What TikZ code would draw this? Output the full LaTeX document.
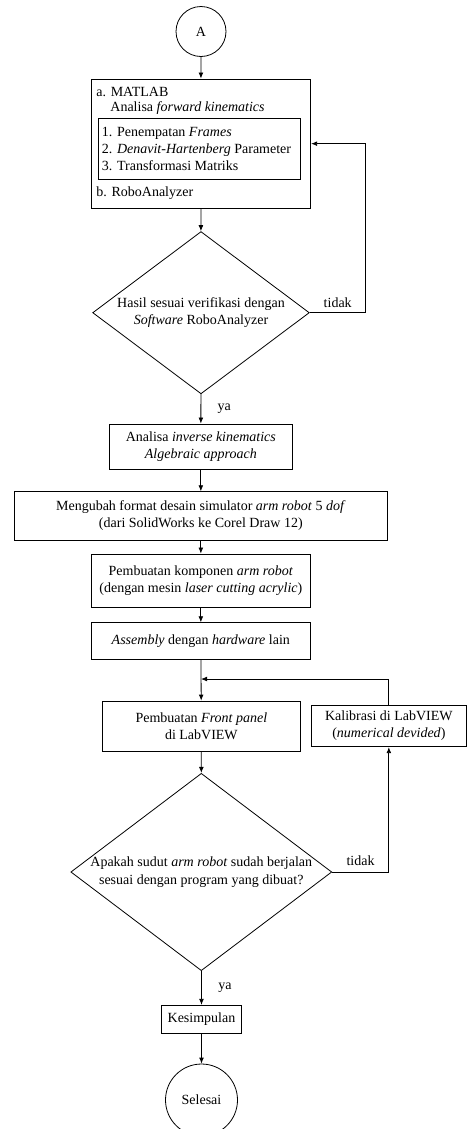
\documentclass[tikz,border=0pt]{standalone}
\usepackage{fontspec}
\setmainfont{Liberation Serif}
\usetikzlibrary{shapes.geometric,arrows.meta}
\begin{document}
\begin{tikzpicture}[x=0.75pt, y=-0.75pt, line width=0.6pt,
  font=\fontsize{10.5}{13}\selectfont,
  kotak/.style={draw, rectangle, align=center, inner sep=0pt},
  terminal/.style={draw, circle, inner sep=0pt},
  keputusan/.style={draw, diamond, inner sep=0pt},
  teks/.style={anchor=west, align=left, inner sep=0pt},
  panah/.style={-{Latex[length=4.5pt,width=3.6pt]}}]
  \useasboundingbox (0,0) rectangle (467,1129);
  % awal, lalu blok MATLAB dengan kotak langkah di dalamnya
  \node[terminal, minimum size=37.5pt] (mulai) at (201,31.5) {A};
  \node[kotak, minimum width=164.8pt, minimum height=97pt] (matlab) at (200.85,143.65) {};
  \node[teks] (matlaba) at (96,91.7) {a. MATLAB};
  \node[teks] (analisa) at (110,108.3) {Analisa \textit{forward kinematics}};
  \node[kotak, minimum width=151.5pt, minimum height=45.75pt] (langkah) at (199.7,148.5) {};
  \node[teks, font=\fontsize{10.5}{12.75}\selectfont] (daftar) at (101.5,148.5)
    {1. Penempatan \textit{Frames}\\ 2. \textit{Denavit-Hartenberg} Parameter\\ 3. Transformasi Matriks};
  \node[teks] (matlabb) at (96,193.3) {b. RoboAnalyzer};
  % verifikasi pertama
  \node[keputusan, minimum width=162.5pt, minimum height=121.7pt,
    label={[align=center]center:Hasil sesuai verifikasi dengan\\ \textit{Software} RoboAnalyzer}] (cek1) at (201,312.7) {};
  % urutan proses
  \node[kotak, minimum width=137.25pt, minimum height=34pt] (invers) at (200.85,446.65)
    {Analisa \textit{inverse kinematics}\\ \textit{Algebraic approach}};
  \node[kotak, minimum width=280.3pt, minimum height=36.2pt] (format) at (200.85,515.85)
    {Mengubah format desain simulator \textit{arm robot} 5 \textit{dof}\\ (dari SolidWorks ke Corel Draw 12)};
  \node[kotak, minimum width=163.7pt, minimum height=40pt] (komponen) at (200.85,580.65)
    {Pembuatan komponen \textit{arm robot}\\ (dengan mesin \textit{laser cutting acrylic})};
  \node[kotak, minimum width=163.7pt, minimum height=27.2pt] (rakit) at (200.85,640.85)
    {\textit{Assembly} dengan \textit{hardware} lain};
  \coordinate (gabung) at (201,679);
  \node[kotak, minimum width=148pt, minimum height=37.5pt] (panel) at (201.35,726)
    {Pembuatan \textit{Front panel}\\ di LabVIEW};
  \node[kotak, minimum width=116.8pt, minimum height=31.3pt] (kalibrasi) at (388.85,725.85)
    {Kalibrasi di LabVIEW\\ (\textit{numerical devided})};
  % verifikasi kedua dan akhir
  \node[keputusan, minimum width=195.7pt, minimum height=148pt,
    label={[align=center]center:Apakah sudut \textit{arm robot} sudah berjalan\\ sesuai dengan program yang dibuat?}] (cek2) at (201.3,872) {};
  \node[kotak, minimum width=59.5pt, minimum height=21pt] (simpul) at (201.5,1019.3) {Kesimpulan};
  \node[terminal, minimum size=54pt] (selesai) at (201.5,1100) {Selesai};
  % panah
  \draw[panah] (mulai) -- (matlab);
  \draw[panah] (matlab) -- (cek1);
  \draw[panah] (cek1.east) -- node[above] {tidak} ++(56,0) |- (matlab.east);
  \draw[panah] (cek1) -- node[right=9pt] {ya} (invers);
  \draw[panah] (invers) -- (format);
  \draw[panah] (format) -- (komponen);
  \draw[panah] (komponen) -- (rakit);
  \draw[panah] (rakit) -- (panel);
  \draw[panah] (kalibrasi.north) |- (gabung);
  \draw[panah] (panel) -- (cek2);
  \draw[panah] (cek2.east) -| node[pos=0.25, above, yshift=1.5pt] {tidak} (kalibrasi.south);
  \draw[panah] (cek2) -- node[right=9pt] {ya} (simpul);
  \draw[panah] (simpul) -- (selesai);
\end{tikzpicture}
\end{document}
